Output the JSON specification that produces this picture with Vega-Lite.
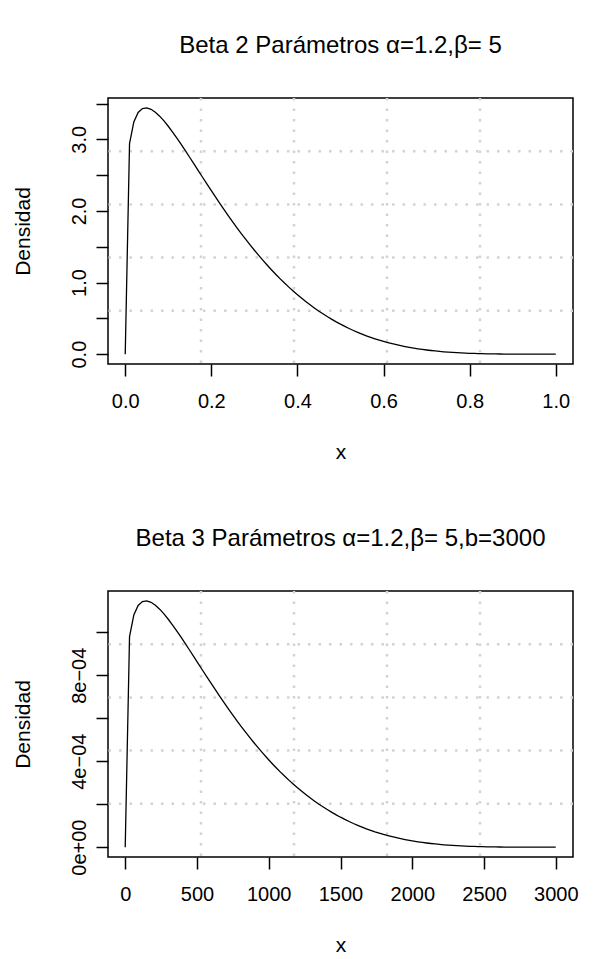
{
  "$schema": "https://vega.github.io/schema/vega-lite/v6.json",
  "background": "white",
  "padding": {"left": 11, "top": 33, "right": 0, "bottom": 0},
  "config": {
    "font": "Liberation Sans",
    "view": {"stroke": "black", "strokeWidth": 1.5},
    "axis": {"domain": false, "grid": false, "ticks": true, "tickColor": "black", "tickSize": 12, "tickWidth": 1.5, "labelFont": "Liberation Sans", "labelFontSize": 20, "labelColor": "black", "titleFont": "Liberation Sans", "titleFontSize": 21, "titleFontWeight": "normal", "titleColor": "black", "labelFlush": false, "labelOverlap": false},
    "axisX": {"labelPadding": 15, "titlePadding": 30},
    "axisY": {"labelPadding": 7, "titlePadding": 36, "labelAngle": 270, "labelAlign": "center", "labelBaseline": "bottom"},
    "title": {"font": "Liberation Sans", "fontSize": 24, "fontWeight": "normal", "color": "black", "frame": "group", "anchor": "middle", "offset": 39},
    "concat": {"spacing": 63}
  },
  "datasets": {
    "grid2x": [{"x": 0.176}, {"x": 0.392}, {"x": 0.608}, {"x": 0.824}],
    "grid2y": [{"y": 0.6053}, {"y": 1.3482}, {"y": 2.0912}, {"y": 2.8341}],
    "grid3x": [{"x": 528}, {"x": 1176}, {"x": 1824}, {"x": 2472}],
    "grid3y": [{"y": 0.00020178}, {"y": 0.00044942}, {"y": 0.00069706}, {"y": 0.00094469}],
    "beta2": [
      {"x": 0, "y": 0}, {"x": 0.01, "y": 2.9399}, {"x": 0.02, "y": 3.2427}, {"x": 0.03, "y": 3.3753}, {"x": 0.04, "y": 3.43}, {"x": 0.05, "y": 3.4394}, {"x": 0.06, "y": 3.4193}, {"x": 0.07, "y": 3.3787}, {"x": 0.08, "y": 3.3233}, {"x": 0.09, "y": 3.2569}, {"x": 0.1, "y": 3.1825},
      {"x": 0.11, "y": 3.1019}, {"x": 0.12, "y": 3.0169}, {"x": 0.13, "y": 2.9286}, {"x": 0.14, "y": 2.838}, {"x": 0.15, "y": 2.7459}, {"x": 0.16, "y": 2.653}, {"x": 0.17, "y": 2.5598}, {"x": 0.18, "y": 2.4666}, {"x": 0.19, "y": 2.374}, {"x": 0.2, "y": 2.2823},
      {"x": 0.21, "y": 2.1915}, {"x": 0.22, "y": 2.1021}, {"x": 0.23, "y": 2.0142}, {"x": 0.24, "y": 1.928}, {"x": 0.25, "y": 1.8434}, {"x": 0.26, "y": 1.7608}, {"x": 0.27, "y": 1.6802}, {"x": 0.28, "y": 1.6016}, {"x": 0.29, "y": 1.5251}, {"x": 0.3, "y": 1.4508},
      {"x": 0.31, "y": 1.3787}, {"x": 0.32, "y": 1.3088}, {"x": 0.33, "y": 1.2411}, {"x": 0.34, "y": 1.1756}, {"x": 0.35, "y": 1.1124}, {"x": 0.36, "y": 1.0514}, {"x": 0.37, "y": 0.9927}, {"x": 0.38, "y": 0.9361}, {"x": 0.39, "y": 0.8817}, {"x": 0.4, "y": 0.8295},
      {"x": 0.41, "y": 0.7794}, {"x": 0.42, "y": 0.7314}, {"x": 0.43, "y": 0.6855}, {"x": 0.44, "y": 0.6416}, {"x": 0.45, "y": 0.5996}, {"x": 0.46, "y": 0.5597}, {"x": 0.47, "y": 0.5216}, {"x": 0.48, "y": 0.4854}, {"x": 0.49, "y": 0.4509}, {"x": 0.5, "y": 0.4183},
      {"x": 0.51, "y": 0.3874}, {"x": 0.52, "y": 0.3581}, {"x": 0.53, "y": 0.3304}, {"x": 0.54, "y": 0.3043}, {"x": 0.55, "y": 0.2797}, {"x": 0.56, "y": 0.2566}, {"x": 0.57, "y": 0.2349}, {"x": 0.58, "y": 0.2145}, {"x": 0.59, "y": 0.1955}, {"x": 0.6, "y": 0.1777},
      {"x": 0.61, "y": 0.1611}, {"x": 0.62, "y": 0.1457}, {"x": 0.63, "y": 0.1314}, {"x": 0.64, "y": 0.1181}, {"x": 0.65, "y": 0.1058}, {"x": 0.66, "y": 0.0945}, {"x": 0.67, "y": 0.0842}, {"x": 0.68, "y": 0.0746}, {"x": 0.69, "y": 0.0659}, {"x": 0.7, "y": 0.058},
      {"x": 0.71, "y": 0.0508}, {"x": 0.72, "y": 0.0443}, {"x": 0.73, "y": 0.0384}, {"x": 0.74, "y": 0.0331}, {"x": 0.75, "y": 0.0284}, {"x": 0.76, "y": 0.0242}, {"x": 0.77, "y": 0.0204}, {"x": 0.78, "y": 0.0171}, {"x": 0.79, "y": 0.0143}, {"x": 0.8, "y": 0.0118},
      {"x": 0.81, "y": 0.0096}, {"x": 0.82, "y": 0.0078}, {"x": 0.83, "y": 0.0062}, {"x": 0.84, "y": 0.0049}, {"x": 0.85, "y": 0.0038}, {"x": 0.86, "y": 0.0029}, {"x": 0.87, "y": 0.0021}, {"x": 0.88, "y": 0.0016}, {"x": 0.89, "y": 0.0011}, {"x": 0.9, "y": 0.00075},
      {"x": 0.91, "y": 0.0005}, {"x": 0.92, "y": 0.00031}, {"x": 0.93, "y": 0.00018}, {"x": 0.94, "y": 0.0001}, {"x": 0.95, "y": 0.00005}, {"x": 0.96, "y": 0.00002}, {"x": 0.97, "y": 0.000006}, {"x": 0.98, "y": 0.000001}, {"x": 0.99, "y": 0}, {"x": 1, "y": 0}
    ],
    "beta3": [
      {"x": 0, "y": 0}, {"x": 30, "y": 0.00097997}, {"x": 60, "y": 0.0010809}, {"x": 90, "y": 0.0011251}, {"x": 120, "y": 0.0011433}, {"x": 150, "y": 0.0011465}, {"x": 180, "y": 0.0011398}, {"x": 210, "y": 0.0011262}, {"x": 240, "y": 0.0011078}, {"x": 270, "y": 0.0010856}, {"x": 300, "y": 0.0010608},
      {"x": 330, "y": 0.001034}, {"x": 360, "y": 0.0010056}, {"x": 390, "y": 0.0009762}, {"x": 420, "y": 0.000946}, {"x": 450, "y": 0.0009153}, {"x": 480, "y": 0.0008843}, {"x": 510, "y": 0.0008533}, {"x": 540, "y": 0.0008222}, {"x": 570, "y": 0.0007913}, {"x": 600, "y": 0.0007608},
      {"x": 630, "y": 0.0007305}, {"x": 660, "y": 0.0007007}, {"x": 690, "y": 0.0006714}, {"x": 720, "y": 0.0006427}, {"x": 750, "y": 0.0006145}, {"x": 780, "y": 0.0005869}, {"x": 810, "y": 0.0005601}, {"x": 840, "y": 0.0005339}, {"x": 870, "y": 0.0005084}, {"x": 900, "y": 0.0004836},
      {"x": 930, "y": 0.0004596}, {"x": 960, "y": 0.0004363}, {"x": 990, "y": 0.0004137}, {"x": 1020, "y": 0.0003919}, {"x": 1050, "y": 0.0003708}, {"x": 1080, "y": 0.0003505}, {"x": 1110, "y": 0.0003309}, {"x": 1140, "y": 0.000312}, {"x": 1170, "y": 0.0002939}, {"x": 1200, "y": 0.0002765},
      {"x": 1230, "y": 0.0002598}, {"x": 1260, "y": 0.0002438}, {"x": 1290, "y": 0.0002285}, {"x": 1320, "y": 0.0002139}, {"x": 1350, "y": 0.0001999}, {"x": 1380, "y": 0.0001866}, {"x": 1410, "y": 0.0001739}, {"x": 1440, "y": 0.0001618}, {"x": 1470, "y": 0.0001503}, {"x": 1500, "y": 0.0001394},
      {"x": 1530, "y": 0.0001291}, {"x": 1560, "y": 0.0001194}, {"x": 1590, "y": 0.0001101}, {"x": 1620, "y": 0.0001014}, {"x": 1650, "y": 0.0000932}, {"x": 1680, "y": 0.0000855}, {"x": 1710, "y": 0.0000783}, {"x": 1740, "y": 0.0000715}, {"x": 1770, "y": 0.0000652}, {"x": 1800, "y": 0.0000592},
      {"x": 1830, "y": 0.0000537}, {"x": 1860, "y": 0.0000486}, {"x": 1890, "y": 0.0000438}, {"x": 1920, "y": 0.0000394}, {"x": 1950, "y": 0.0000353}, {"x": 1980, "y": 0.0000315}, {"x": 2010, "y": 0.0000281}, {"x": 2040, "y": 0.0000249}, {"x": 2070, "y": 0.000022}, {"x": 2100, "y": 0.0000193},
      {"x": 2130, "y": 0.0000169}, {"x": 2160, "y": 0.0000148}, {"x": 2190, "y": 0.0000128}, {"x": 2220, "y": 0.000011}, {"x": 2250, "y": 0.00000945}, {"x": 2280, "y": 0.00000805}, {"x": 2310, "y": 0.00000681}, {"x": 2340, "y": 0.00000571}, {"x": 2370, "y": 0.00000475}, {"x": 2400, "y": 0.00000392},
      {"x": 2430, "y": 0.0000032}, {"x": 2460, "y": 0.00000259}, {"x": 2490, "y": 0.00000206}, {"x": 2520, "y": 0.00000162}, {"x": 2550, "y": 0.00000126}, {"x": 2580, "y": 0.00000096}, {"x": 2610, "y": 0.00000071}, {"x": 2640, "y": 0.00000052}, {"x": 2670, "y": 0.00000037}, {"x": 2700, "y": 0.00000025},
      {"x": 2730, "y": 0.00000017}, {"x": 2760, "y": 0.0000001}, {"x": 2790, "y": 0.00000006}, {"x": 2820, "y": 0.00000003}, {"x": 2850, "y": 0.00000002}, {"x": 2880, "y": 0.00000001}, {"x": 2910, "y": 0}, {"x": 2940, "y": 0}, {"x": 2970, "y": 0}, {"x": 3000, "y": 0}
    ]
  },
  "vconcat": [
    {
      "title": {"text": "Beta 2 Parámetros α=1.2,β= 5"},
      "width": 465,
      "height": 266,
      "encoding": {
        "x": {"field": "x", "type": "quantitative", "scale": {"domain": [-0.04, 1.04], "nice": false, "zero": false}, "axis": {"title": "x", "values": [0, 0.2, 0.4, 0.6, 0.8, 1.0], "format": ".1f"}},
        "y": {"field": "y", "type": "quantitative", "scale": {"domain": [-0.137576, 3.576986], "nice": false, "zero": false}, "axis": {"title": "Densidad", "values": [0, 0.5, 1, 1.5, 2, 2.5, 3, 3.5], "labelExpr": "datum.value % 1 === 0 ? format(datum.value, '.1f') : ''"}}
      },
      "layer": [
        {
          "data": {"name": "grid2x"},
          "mark": {"type": "rule", "color": "#D3D3D3", "strokeWidth": 2.5, "strokeDash": [2.5, 8]},
          "encoding": {"y": null}
        },
        {
          "data": {"name": "grid2y"},
          "mark": {"type": "rule", "color": "#D3D3D3", "strokeWidth": 2.5, "strokeDash": [2.5, 8]},
          "encoding": {"x": null}
        },
        {
          "data": {"name": "beta2"},
          "mark": {"type": "line", "color": "black", "strokeWidth": 1.3, "clip": true},
          "encoding": {}
        }
      ]
    },
    {
      "title": {"text": "Beta 3 Parámetros α=1.2,β= 5,b=3000"},
      "width": 465,
      "height": 266,
      "encoding": {
        "x": {"field": "x", "type": "quantitative", "scale": {"domain": [-120, 3120], "nice": false, "zero": false}, "axis": {"title": "x", "values": [0, 500, 1000, 1500, 2000, 2500, 3000], "format": "d"}},
        "y": {"field": "y", "type": "quantitative", "scale": {"domain": [-0.000045859, 0.00119233], "nice": false, "zero": false}, "axis": {"title": "Densidad", "values": [0, 0.0002, 0.0004, 0.0006, 0.0008, 0.001], "labelExpr": "datum.value < 0.00001 ? '0e+00' : (abs(datum.value - 0.0004) < 0.00001 ? '4e−04' : (abs(datum.value - 0.0008) < 0.00001 ? '8e−04' : ''))"}}
      },
      "layer": [
        {
          "data": {"name": "grid3x"},
          "mark": {"type": "rule", "color": "#D3D3D3", "strokeWidth": 2.5, "strokeDash": [2.5, 8]},
          "encoding": {"y": null}
        },
        {
          "data": {"name": "grid3y"},
          "mark": {"type": "rule", "color": "#D3D3D3", "strokeWidth": 2.5, "strokeDash": [2.5, 8]},
          "encoding": {"x": null}
        },
        {
          "data": {"name": "beta3"},
          "mark": {"type": "line", "color": "black", "strokeWidth": 1.3, "clip": true},
          "encoding": {}
        }
      ]
    }
  ]
}
